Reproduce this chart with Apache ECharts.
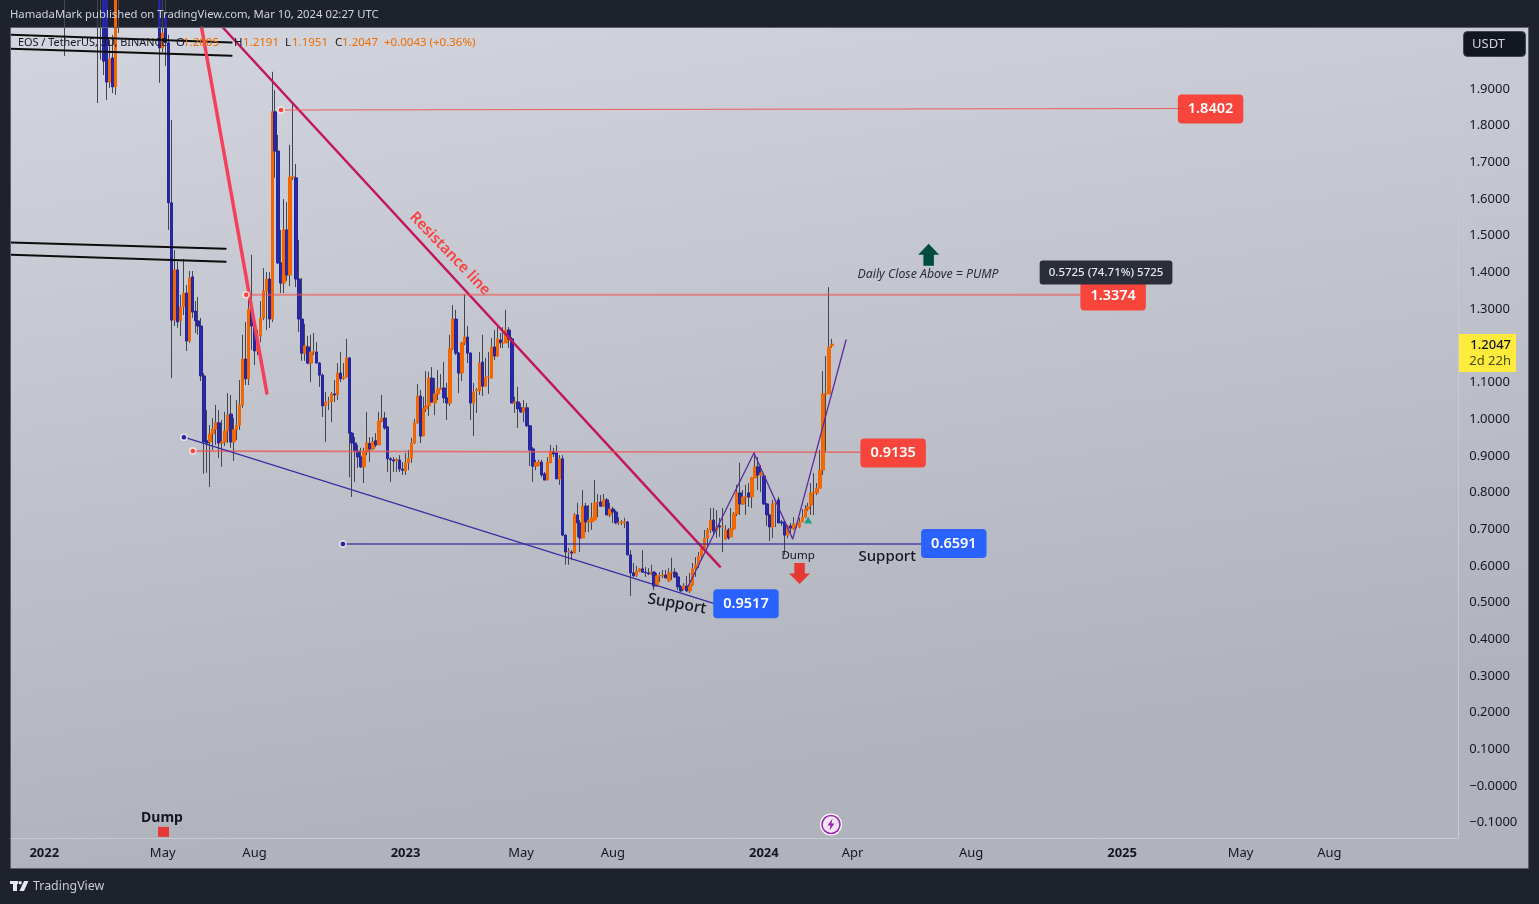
<!DOCTYPE html>
<html><head><meta charset="utf-8">
<style>html,body{margin:0;padding:0;background:#1e222d}#c{width:1539px;height:904px}</style>
<script src="https://cdn.jsdelivr.net/npm/echarts@6/dist/echarts.min.js"></script>
</head><body><div id="c"></div>
<script>
const FONT='"Noto Sans"';
// candle rows: [open, close, low, high], one bar every 3 days
const candles=[
[3.6,3.4,3.3,3.7],[3.4,3.5,3.2,3.6],[3.5,3.3,3.1,3.6],[3.3,3.4,3.2,3.5],[3.4,3.2,2.9,3.5],[3.2,3.1,2.9,3.3],[3.1,3.2,2.95,3.3],[3.2,3.15,3.0,3.3],[3.15,3.1,2.95,3.25],[3.1,3.2,3.0,3.3],
[3.2,3.15,3.05,3.3],[3.15,3.25,3.05,3.35],[3.25,3.1,2.95,3.3],[3.1,2.95,2.8,3.2],[2.95,3.05,2.85,3.15],[3.05,3.1,2.95,3.2],[3.1,2.85,2.7,3.15],[2.85,2.45,2.35,2.9],[2.45,2.25,1.99,2.5],[2.25,2.3,2.15,2.4],
[2.3,2.35,2.2,2.45],[2.35,2.4,2.25,2.55],[2.4,2.55,2.35,2.65],[2.55,2.45,2.35,2.6],[2.45,2.5,2.3,2.6],[2.5,2.35,2.25,2.55],[2.35,2.3,2.15,2.45],[2.3,2.25,2.15,2.35],[2.25,2.3,2.15,2.4],[2.3,2.2,1.862,2.35],
[2.2,2.25,1.98,2.3],[2.25,1.976,1.938,2.3],[2.18,1.919,1.87,2.25],[1.919,1.982,1.903,2.034],[1.985,1.906,1.889,2.048],[1.906,2.2,1.884,2.3],[2.2,2.3,2.053,2.4],[2.3,2.45,2.25,2.55],[2.45,2.75,2.4,2.85],[2.75,2.7,2.55,2.95],
[2.7,2.85,2.6,3.0],[2.85,2.75,2.6,2.95],[2.75,2.9,2.65,3.2],[2.9,2.7,2.55,3.0],[2.7,2.6,2.35,2.8],[2.6,2.55,2.4,2.7],[2.55,2.5,2.35,2.65],[2.5,2.35,2.25,2.6],[2.35,2.4,2.2,2.5],[2.4,2.3,2.15,2.45],
[2.3,2.012,1.917,2.35],[2.012,2.053,2.001,2.2],[2.1,2.026,1.963,2.2],[2.026,1.59,1.516,2.048],[1.59,1.27,1.112,1.816],[1.27,1.407,1.254,1.461],[1.407,1.265,1.249,1.429],[1.268,1.306,1.227,1.339],[1.306,1.344,1.284,1.437],[1.344,1.213,1.186,1.366],
[1.213,1.385,1.208,1.404],[1.388,1.292,1.276,1.404],[1.295,1.268,1.235,1.322],[1.268,1.254,1.23,1.333],[1.254,1.118,1.104,1.276],[1.118,0.938,0.851,1.126],[0.941,0.935,0.854,1.025],[0.938,0.96,0.815,0.984],[0.96,0.973,0.916,1.003],[0.973,0.99,0.93,1.039],
[0.99,0.935,0.894,1.025],[0.935,0.938,0.87,0.998],[0.938,0.968,0.927,1.02],[0.968,1.011,0.935,1.071],[1.014,0.938,0.922,1.066],[0.938,0.971,0.886,1.003],[0.971,0.984,0.943,1.052],[0.984,1.039,0.971,1.107],[1.039,1.164,1.031,1.23],[1.164,1.11,1.093,1.265],
[1.11,1.3,1.093,1.325],[1.3,1.254,1.189,1.448],[1.254,1.186,1.148,1.276],[1.186,1.216,1.175,1.243],[1.227,1.276,1.21,1.322],[1.276,1.349,1.27,1.412],[1.349,1.382,1.243,1.401],[1.382,1.273,1.249,1.401],[1.273,1.838,1.265,1.947],[1.838,1.731,1.658,1.897],
[1.731,1.426,1.423,1.775],[1.426,1.371,1.344,1.516],[1.371,1.516,1.344,1.6],[1.516,1.393,1.377,1.592],[1.393,1.66,1.363,1.748],[1.66,1.661,1.652,1.862],[1.658,1.382,1.36,1.696],[1.382,1.273,1.238,1.489],[1.273,1.18,1.159,1.385],[1.18,1.2,1.159,1.26],
[1.197,1.153,1.15,1.227],[1.153,1.183,1.101,1.23],[1.183,1.184,1.175,1.235],[1.183,1.153,1.153,1.21],[1.153,1.12,1.088,1.156],[1.12,1.036,1.006,1.125],[1.036,1.047,0.938,1.074],[1.047,1.048,1.025,1.061],[1.047,1.069,0.992,1.074],[1.069,1.066,1.047,1.107],
[1.066,1.126,1.052,1.153],[1.126,1.11,1.101,1.183],[1.11,1.115,1.107,1.153],[1.115,1.167,1.112,1.219],[1.167,0.962,0.842,1.17],[0.962,0.935,0.788,0.965],[0.935,0.913,0.829,0.951],[0.913,0.897,0.867,0.93],[0.897,0.87,0.867,0.922],[0.87,0.911,0.826,0.922],
[0.911,0.935,0.902,1.02],[0.933,0.919,0.883,0.951],[0.919,0.938,0.916,0.951],[0.941,0.93,0.924,0.962],[0.93,0.995,0.93,1.02],[0.995,1.003,0.992,1.066],[1.003,0.976,0.971,1.02],[0.979,0.892,0.856,0.981],[0.892,0.889,0.829,0.897],[0.889,0.886,0.856,0.897],
[0.886,0.89,0.856,0.894],[0.889,0.864,0.856,0.902],[0.864,0.861,0.848,0.883],[0.859,0.881,0.848,0.908],[0.881,0.894,0.861,0.916],[0.894,0.935,0.881,0.949],[0.935,0.99,0.932,1.001],[0.99,1.063,0.987,1.096],[1.063,0.954,0.935,1.08],[0.954,1.028,0.954,1.061],
[1.028,1.036,1.02,1.131],[1.036,1.112,1.009,1.129],[1.112,1.047,1.045,1.142],[1.044,1.069,1.011,1.112],[1.069,1.082,1.052,1.134],[1.082,1.085,1.08,1.123],[1.085,1.058,1.044,1.156],[1.058,1.044,0.998,1.099],[1.044,1.192,1.036,1.23],[1.192,1.273,1.189,1.311],
[1.273,1.18,1.175,1.298],[1.18,1.126,1.071,1.183],[1.126,1.208,1.104,1.211],[1.208,1.224,1.202,1.341],[1.224,1.18,1.153,1.254],[1.18,1.044,0.998,1.183],[1.044,1.074,0.954,1.099],[1.077,1.08,1.017,1.085],[1.077,1.153,1.066,1.183],[1.156,1.09,1.063,1.23],
[1.09,1.115,1.088,1.167],[1.115,1.116,1.069,1.183],[1.112,1.197,1.112,1.221],[1.197,1.172,1.161,1.243],[1.172,1.219,1.17,1.251],[1.216,1.208,1.194,1.235],[1.208,1.209,1.194,1.251],[1.208,1.243,1.208,1.298],[1.243,1.219,1.194,1.251],[1.219,1.044,1.044,1.224],
[1.044,1.047,1.017,1.061],[1.047,1.028,0.976,1.088],[1.031,1.02,1.017,1.044],[1.02,1.031,0.992,1.052],[1.031,0.982,0.979,1.044],[0.982,0.916,0.872,0.984],[0.919,0.872,0.829,0.924],[0.872,0.881,0.861,0.889],[0.875,0.883,0.872,0.889],[0.883,0.848,0.842,0.889],
[0.851,0.834,0.834,0.856],[0.834,0.883,0.834,0.897],[0.881,0.911,0.881,0.93],[0.911,0.905,0.897,0.922],[0.908,0.837,0.837,0.93],[0.837,0.892,0.821,0.902],[0.892,0.684,0.682,0.902],[0.684,0.638,0.603,0.686],[0.638,0.639,0.603,0.649],[0.638,0.635,0.616,0.643],
[0.635,0.739,0.635,0.744],[0.739,0.717,0.679,0.772],[0.717,0.676,0.638,0.725],[0.676,0.763,0.676,0.807],[0.763,0.72,0.692,0.772],[0.72,0.725,0.692,0.766],[0.72,0.731,0.698,0.772],[0.725,0.772,0.725,0.834],[0.772,0.773,0.733,0.796],[0.774,0.763,0.763,0.793],
[0.763,0.78,0.763,0.796],[0.78,0.739,0.739,0.785],[0.739,0.755,0.733,0.772],[0.755,0.747,0.717,0.761],[0.747,0.717,0.714,0.752],[0.717,0.718,0.711,0.733],[0.717,0.72,0.711,0.725],[0.717,0.72,0.703,0.731],[0.72,0.63,0.63,0.722],[0.63,0.581,0.518,0.643],
[0.581,0.573,0.57,0.608],[0.575,0.586,0.57,0.6],[0.586,0.592,0.583,0.594],[0.592,0.583,0.581,0.643],[0.583,0.581,0.57,0.597],[0.581,0.578,0.575,0.594],[0.578,0.583,0.575,0.603],[0.583,0.545,0.534,0.586],[0.548,0.573,0.543,0.581],[0.573,0.574,0.556,0.583],
[0.573,0.574,0.567,0.589],[0.575,0.567,0.567,0.589],[0.559,0.581,0.556,0.594],[0.581,0.583,0.562,0.622],[0.583,0.57,0.567,0.594],[0.57,0.543,0.534,0.581],[0.543,0.532,0.529,0.548],[0.537,0.545,0.534,0.553],[0.545,0.532,0.529,0.573],[0.532,0.548,0.526,0.581],
[0.548,0.592,0.545,0.608],[0.592,0.603,0.57,0.624],[0.603,0.627,0.594,0.638],[0.627,0.649,0.616,0.657],[0.649,0.676,0.643,0.698],[0.676,0.698,0.649,0.703],[0.698,0.725,0.69,0.758],[0.725,0.695,0.684,0.758],[0.698,0.706,0.676,0.752],[0.709,0.706,0.679,0.731],
[0.706,0.707,0.638,0.758],[0.673,0.698,0.671,0.711],[0.698,0.676,0.671,0.703],[0.679,0.701,0.679,0.758],[0.701,0.742,0.698,0.747],[0.742,0.799,0.736,0.821],[0.799,0.769,0.739,0.881],[0.769,0.788,0.766,0.807],[0.788,0.789,0.739,0.821],[0.799,0.788,0.761,0.826],
[0.788,0.84,0.758,0.842],[0.84,0.87,0.84,0.911],[0.87,0.848,0.807,0.897],[0.848,0.853,0.801,0.875],[0.845,0.769,0.766,0.848],[0.769,0.739,0.709,0.772],[0.739,0.706,0.668,0.742],[0.706,0.769,0.676,0.78],[0.769,0.772,0.706,0.78],[0.78,0.717,0.717,0.788],
[0.72,0.717,0.709,0.725],[0.72,0.684,0.63,0.722],[0.684,0.709,0.676,0.711],[0.709,0.703,0.69,0.717],[0.701,0.714,0.698,0.733],[0.711,0.712,0.703,0.717],[0.706,0.72,0.703,0.731],[0.72,0.733,0.72,0.755],[0.733,0.755,0.731,0.766],[0.755,0.761,0.75,0.772],
[0.766,0.799,0.739,0.826],[0.799,0.8,0.739,0.853],[0.799,0.812,0.793,0.826],[0.812,0.861,0.812,0.916],[0.861,1.069,0.848,1.131],[1.069,1.07,0.911,1.172],[1.069,1.197,1.069,1.36],[1.2005,1.2047,1.1951,1.2191]
];
const barCount=489;
const firstBarDate='2021-11-28';
const xTickBars=[11,51,82,133,172,203,254,284,324,375,415,445];
const xTickTexts=['2022','May','Aug','2023','May','Aug','2024','Apr','Aug','2025','May','Aug'];
const yTicks=[-0.1,0,0.1,0.2,0.3,0.4,0.5,0.6,0.7,0.8,0.9,1.0,1.1,1.3,1.4,1.5,1.6,1.7,1.8,1.9];
const yMin=-0.1418, yMax=2.0665;
// hand-drawn chart objects as [bar number, price] end points
const blackLines=[[[-0.5,2.048],[74,2.027]],[[-0.5,2.010],[74,1.991]],[[-0.5,1.482],[72,1.465]],[[-0.5,1.448],[72,1.429]]];
const redTrend=[[63.9,2.0665],[85.9,1.071]];
const resistanceLine=[[71.2,2.0665],[238.9,0.598]];
const level18402=[[90.7,1.843],[393.6,1.847]];
const level13374=[[78.9,1.339],[360.5,1.339]];
const level09135=[[60.9,0.913],[286.2,0.910]];
const level06591=[[111.6,0.660],[306.9,0.660]];
const supportLine=[[57.9,0.951],[237.6,0.496]];
const zigzag=[[228.1,0.543],[250.4,0.908],[263.5,0.673],[281.5,1.216]];
const redDots=[[90.7,1.843],[78.9,1.339],[60.9,0.913]];
const blueDots=[[57.9,0.951],[111.6,0.660]];
const priceTags=[[404.6,1.846,'1.8402','#f7453b'],[371.7,1.336,'1.3374','#f7453b'],[297.4,0.908,'0.9135','#f7453b'],[317.9,0.661,'0.6591','#2962ff'],[247.7,0.497,'0.9517','#2962ff']];
const notes=[
 [147.7,1.451,'Resistance line',{fontSize:15,fontWeight:600,color:'#f6433f',rotate:-46}],
 [224.4,0.496,'Support',{fontSize:15.5,fontWeight:500,color:'#131722',rotate:-10}],
 [295.4,0.624,'Support',{fontSize:15,fontWeight:500,color:'#131722'}],
 [265.3,0.627,'Dump',{fontSize:11.5,color:'#131722'}],
 [50.5,-0.087,'Dump',{fontSize:14,fontWeight:700,color:'#131722'}],
 [309.2,1.394,'Daily Close Above = PUMP',{fontSize:12.3,fontStyle:'italic',color:'#2a2e39'}],
 [369.3,1.400,'0.5725 (74.71%) 5725',{fontSize:11.5,fontWeight:500,color:'#e6e8ee',backgroundColor:'#2a2e39',padding:[6,9],borderRadius:3}]
];
const legendParts=[[18,'EOS / TetherUS, 3D, BINANCE','#131722',10.9],[176,'O','#131722',11.5],[183,'1.2005','#ef6c00',11.5],[234,'H','#131722',11.5],[243,'1.2191','#ef6c00',11.5],[285,'L','#131722',11.5],[292,'1.1951','#ef6c00',11.5],[335,'C','#131722',11.5],[342,'1.2047','#ef6c00',11.5],[384,'+0.0043 (+0.36%)','#ef6c00',11.5]];

const categories=[];
{const d0=new Date(firstBarDate+'T00:00:00Z');for(let i=0;i<barCount;i++){categories.push(new Date(d0.getTime()+i*3*864e5).toISOString().slice(0,10));}}
const wicks=candles.map(r=>[r[0],r[1],r[2],r[3]]);
const bodies=candles.map(r=>[r[0],r[1],Math.min(r[0],r[1]),Math.max(r[0],r[1])]);
const arrow='path://M50 0 L100 50 L75 50 L75 100 L25 100 L25 50 L0 50 Z';
const lineS=(data,color,width,opacity)=>({type:'line',xAxisIndex:1,data,showSymbol:false,silent:true,animation:false,z:4,lineStyle:{color,width,opacity:opacity==null?1:opacity,cap:'round'},itemStyle:{color}});
const noteS=(x,y,text,label)=>({type:'scatter',xAxisIndex:1,data:[[x,y]],symbolSize:0,silent:true,z:8,itemStyle:{opacity:1},label:Object.assign({show:true,position:'inside',formatter:text,fontFamily:FONT,opacity:1},label)});
const symS=(x,y,symbol,size,color,rot)=>({type:'scatter',xAxisIndex:1,data:[[x,y]],symbol,symbolSize:size,symbolRotate:rot||0,silent:true,z:7,itemStyle:{color,opacity:1}});

const series=[
 {type:'candlestick',name:'wicks',data:wicks,barWidth:1,z:2,silent:true,itemStyle:{color:'#434651',color0:'#434651',borderColor:'#434651',borderColor0:'#434651',borderColorDoji:'#434651',borderWidth:1}},
 {type:'candlestick',name:'bodies',data:bodies,barWidth:3,z:3,silent:true,itemStyle:{color:'#f26a00',color0:'#2a2aa8',borderColor:'#f26400',borderColor0:'#23239c',borderColorDoji:'#f26400',borderWidth:1}},
 ...blackLines.map(d=>lineS(d,'#0d0d0d',2)),
 lineS(redTrend,'#f4405a',3.5),
 lineS(resistanceLine,'#c2185b',2.5),
 lineS(level18402,'#ee5350',1.2,.9),
 lineS(level13374,'#ee5350',2,.6),
 lineS(level09135,'#ee5350',1.6,.75),
 lineS(level06591,'#2f269a',1.5,.8),
 lineS(supportLine,'#3d2da3',1.2),
 lineS(zigzag,'#5b2ca0',1.3),
 {type:'scatter',xAxisIndex:1,data:redDots,symbolSize:6,silent:true,z:6,itemStyle:{color:'#f7453b',borderColor:'rgba(255,255,255,.75)',borderWidth:1.5,opacity:1}},
 {type:'scatter',xAxisIndex:1,data:blueDots,symbolSize:6,silent:true,z:6,itemStyle:{color:'#2f1f9c',borderColor:'rgba(255,255,255,.75)',borderWidth:1.5,opacity:1}},
 ...priceTags.map(t=>noteS(t[0],t[1],t[2],{fontSize:14.5,fontWeight:600,color:'#fff',backgroundColor:t[3],padding:[8,10,6,10],borderRadius:4})),
 ...notes.map(n=>noteS(n[0],n[1],n[2],n[3])),
 symS(51,-0.125,'rect',[11,10],'#e53935'),
 symS(265.8,0.579,arrow,[21,21],'#e53935',180),
 symS(309.4,1.448,arrow,[21,22],'#004d40'),
 symS(268.7,0.725,'triangle',[8,7],'#1f9e8a')
];

const gfx=[
 {type:'rect',z:-10,shape:{x:11,y:28,width:1517,height:840},style:{fill:{type:'linear',x:0,y:0,x2:0.08,y2:1,colorStops:[{offset:0,color:'#d2d5dd'},{offset:1,color:'#b0b3bc'}]}}},
 {type:'rect',z:60,shape:{x:10.5,y:27.5,width:1518,height:841},style:{fill:'none',stroke:'#5d606b',lineWidth:1}},
 {type:'text',z:60,x:10,y:9,style:{text:'HamadaMark published on TradingView.com, Mar 10, 2024 02:27 UTC',fill:'#d1d4dc',font:'11.3px '+FONT}},
 {type:'rect',z:60,shape:{x:1463.5,y:31.5,width:62,height:25,r:4},style:{fill:'#131722',stroke:'#434651'}},
 {type:'text',z:61,x:1472,y:38,style:{text:'USDT',fill:'#d1d4dc',font:'13px '+FONT}},
 {type:'rect',z:60,shape:{x:1459,y:334,width:57,height:38},style:{fill:'#ffeb3b'}},
 {type:'text',z:61,x:1511,y:339,style:{text:'1.2047',fill:'#131722',font:'500 13px '+FONT,align:'right'}},
 {type:'text',z:61,x:1511,y:355,style:{text:'2d 22h',fill:'#4a4a1e',font:'13px '+FONT,align:'right'}},
 {type:'circle',z:60,shape:{cx:831,cy:824.5,r:11},style:{fill:'#ffffff'}},
 {type:'circle',z:61,shape:{cx:831,cy:824.5,r:9},style:{fill:'#f3e5f5',stroke:'#9c27b0',lineWidth:1.6}},
 {type:'polygon',z:62,shape:{points:[[832.5,818.5],[827.5,825.5],[830.5,825.5],[829.5,830.5],[834.5,823.5],[831.5,823.5]]},style:{fill:'#9c27b0'}},
 {type:'rect',z:60,shape:{x:10,y:881,width:8,height:3},style:{fill:'#e8e9ee'}},
 {type:'rect',z:60,shape:{x:13,y:881,width:4,height:10},style:{fill:'#e8e9ee'}},
 {type:'circle',z:60,shape:{cx:20.2,cy:882.7,r:1.7},style:{fill:'#e8e9ee'}},
 {type:'polygon',z:60,shape:{points:[[24,881],[28.5,881],[24,891],[19.5,891]]},style:{fill:'#e8e9ee'}},
 {type:'text',z:60,x:33,y:880,style:{text:'TradingView',fill:'#c9ccd4',font:'12.4px '+FONT}},
 ...legendParts.map(p=>({type:'text',z:60,x:p[0],y:37,style:{text:p[1],fill:p[2],font:p[3]+'px '+FONT}}))
];

const chart=echarts.init(document.getElementById('c'),null,{renderer:'canvas'});
chart.setOption({
 animation:false,
 backgroundColor:'#1e222d',
 textStyle:{fontFamily:FONT},
 graphic:{elements:gfx},
 grid:{left:10.2,top:28,width:1448,height:810,containLabel:false},
 xAxis:[
  {type:'category',data:categories,boundaryGap:true,
   axisLine:{onZero:false,lineStyle:{color:'#c7cad2',width:1}},axisTick:{show:false},splitLine:{show:false},
   axisLabel:{interval:(i)=>xTickBars.includes(i),hideOverlap:false,margin:9,color:'#131722',fontSize:13,fontFamily:FONT,
     formatter:(v,i)=>{const k=xTickBars.indexOf(i);if(k<0)return '';const t=xTickTexts[k];return /^\d/.test(t)?'{y|'+t+'}':t;},
     rich:{y:{fontWeight:700,fontSize:13,color:'#131722',fontFamily:FONT}}}},
  {type:'value',min:-0.77,max:488.23,show:false}
 ],
 yAxis:{type:'value',position:'right',min:yMin,max:yMax,scale:true,
   axisLine:{show:true,onZero:false,lineStyle:{color:'#c7cad2',width:1}},axisTick:{show:false},splitLine:{show:false},
   axisLabel:{customValues:yTicks,margin:11,color:'#131722',fontSize:13,fontFamily:FONT,align:'left',padding:[4,0,0,0],
     formatter:v=>(v<=0?'\u2212':'')+Math.abs(v).toFixed(4)}},
 series
});
</script></body></html>
